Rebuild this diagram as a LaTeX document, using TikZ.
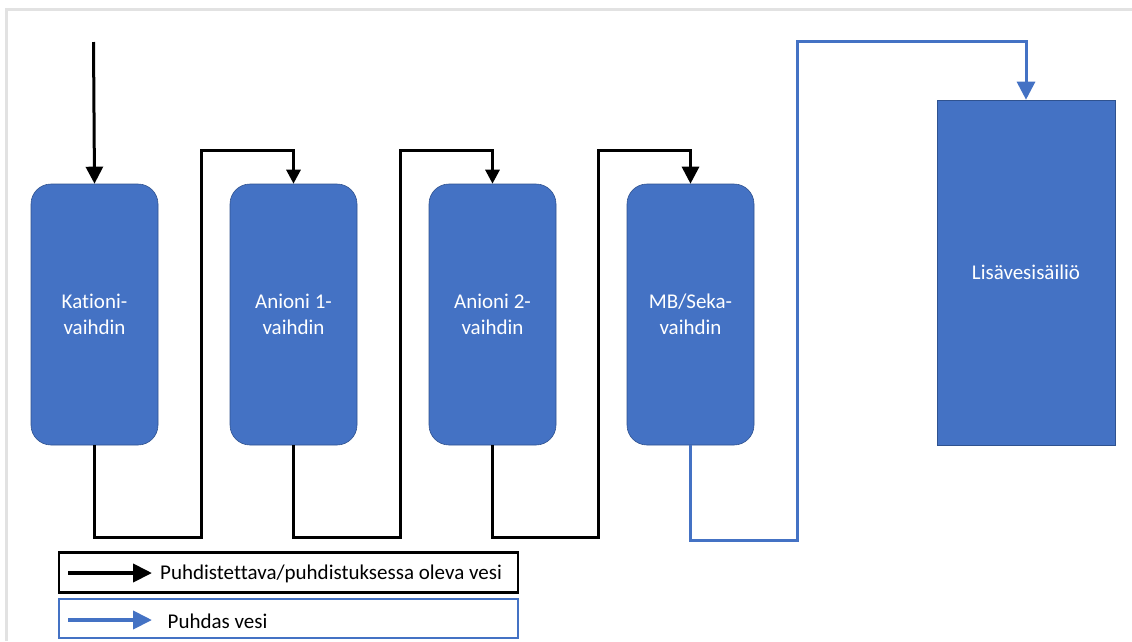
\documentclass[tikz,border=0pt]{standalone}
\usepackage{fontspec}
\setmainfont{Carlito}[Ligatures=NoCommon]
\usetikzlibrary{arrows.meta}
\definecolor{officeblue}{HTML}{4472C4}
\definecolor{edgeblue}{HTML}{2F528F}
\definecolor{framegray}{HTML}{E2E2E2}
\tikzset{
  vessel/.style={draw=edgeblue, line width=0.6pt, fill=officeblue, rounded corners=20pt,
    minimum width=127pt, minimum height=261pt, inner sep=0pt, align=center,
    text=white, font=\fontsize{21}{26}\selectfont},
  tank/.style={draw=edgeblue, line width=0.6pt, fill=officeblue,
    minimum width=178pt, minimum height=345pt, inner sep=0pt,
    text=white, font=\fontsize{21}{26}\selectfont},
  flow/.style={draw=black, line width=3pt, -{Triangle[width=14pt,length=14pt]}},
  bigflow/.style={draw=black, line width=3pt, -{Triangle[width=17pt,length=17pt]}},
  cleanflow/.style={draw=officeblue, line width=3pt, -{Triangle[width=18pt,length=18pt]}},
  legendbox/.style={line width=2.2pt, minimum width=459pt, inner sep=0pt},
  legendtext/.style={anchor=west, inner sep=0pt, font=\fontsize{21}{24}\selectfont},
}
\begin{document}
\begin{tikzpicture}[x=1pt,y=-1pt]
\useasboundingbox (0,0) rectangle (1132,641);
% page frame
\draw[framegray, line width=3pt] (6.5,641) -- (6.5,9) -- (1132,9);

% exchangers and storage tank
\node[vessel] (kat) at (94.5,314.5) {Kationi-\\vaihdin};
\node[vessel] (an1) at (293.5,314.5) {Anioni 1-\\vaihdin};
\node[vessel] (an2) at (492.5,314.5) {Anioni 2-\\vaihdin};
\node[vessel] (mb)  at (690.5,314.5) {MB/Seka-\\vaihdin};
\node[tank]   (lis) at (1026,272.5) {Lisävesisäiliö};

% routing points
\coordinate (in)  at (93.5,42);
\coordinate (d1)  at (201,537);
\coordinate (d2)  at (400,537);
\coordinate (d3)  at (598,537);
\coordinate (d4)  at (797,540);
\coordinate (u1)  at (201,150);
\coordinate (u2)  at (400,150);
\coordinate (u3)  at (598,150);
\coordinate (u4)  at (797,41.5);

% raw water path
\draw[bigflow] (in) -- (kat.north);
\draw[flow] (kat.south) |- (d1) -- (u1) -| (an1.north);
\draw[flow] (an1.south) |- (d2) -- (u2) -| (an2.north);
\draw[bigflow] (an2.south) |- (d3) -- (u3) -| (mb.north);
% clean water path
\draw[cleanflow] (mb.south) |- (d4) -- (u4) -| (lis.north);

% legend
\node[legendbox, draw=black, minimum height=40pt] (leg1) at (288.5,572.5) {};
\node[legendbox, draw=officeblue, minimum height=39pt] (leg2) at (288.5,618.5) {};
\coordinate (a1s) at (68,573);
\coordinate (a1e) at (152,573);
\coordinate (a2s) at (68,620);
\coordinate (a2e) at (152,620);
\draw[draw=black, line width=4pt, -{Triangle[width=18pt,length=19pt]}] (a1s) -- (a1e);
\draw[draw=officeblue, line width=4pt, -{Triangle[width=18pt,length=19pt]}] (a2s) -- (a2e);
\node[legendtext] (t1) at (160,574) {Puhdistettava/puhdistuksessa oleva vesi};
\node[legendtext] (t2) at (167.5,621) {Puhdas vesi};
\end{tikzpicture}
\end{document}
